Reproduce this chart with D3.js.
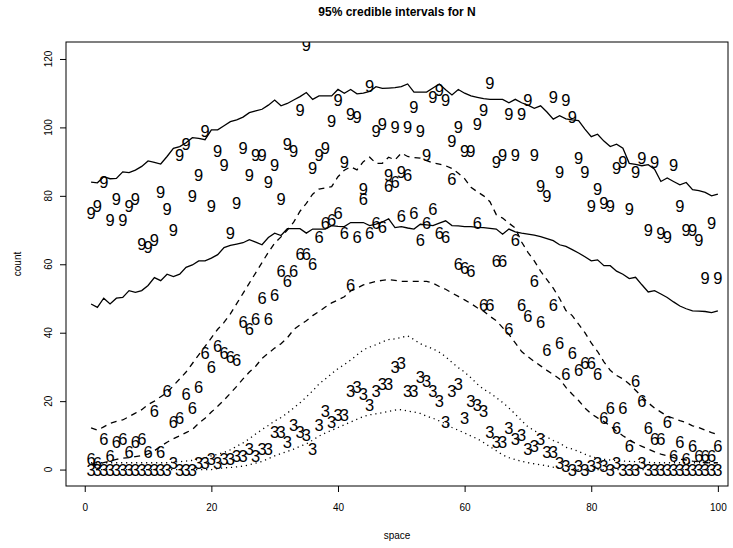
<!DOCTYPE html>
<html><head><meta charset="utf-8">
<script src="https://cdn.jsdelivr.net/npm/d3@7/dist/d3.min.js"></script>
<style>
body{margin:0;background:#fff}
svg{display:block}
text{font-family:"Liberation Sans",Arial,Helvetica,sans-serif;fill:#000}
</style>
</head><body>
<svg id="chart" width="733" height="548"></svg>
<script>
// ---------- data ----------
const space = d3.range(1, 101);
const count9 = [75,77,84,73,79,73,77,79,66,65, 67,81,76,70,92,95,80,86,99,77, 93,89,69,78,94,86,92,92,84,89, 79,95,93,105,124,88,92,94,102,108, 90,104,103,82,112,99,101,86,100,87, 100,106,99,92,109,111,108,96,100,93, 93,101,105,113,90,92,104,92,104,108, 92,83,80,109,87,108,103,91,87,77, 82,78,77,88,90,76,87,91,70,90, 69,68,89,77,70,70,67,56,72,56];
const count6 = [3,2,9,4,8,9,5,8,9,5, 17,5,23,14,15,22,18,24,34,30, 36,34,33,32,43,41,44,50,44,51, 58,55,58,63,63,60,68,72,73,75, 69,54,68,79,69,72,71,83,84,74, 86,75,67,72,76,69,68,85,60,59, 58,72,48,48,61,61,41,67,48,45, 55,43,35,48,37,28,34,29,31,31, 28,15,18,12,18,7,26,20,12,9, 9,14,4,8,3,7,4,4,4,7];
const count3 = [0,0,0,0,0,0,0,0,0,0, 0,0,0,2,0,0,0,2,2,3, 2,3,3,4,4,6,4,6,6,11, 11,8,13,11,10,6,13,17,14,16, 16,23,24,22,19,23,25,25,30,31, 23,23,27,26,23,20,14,23,25,15, 20,19,17,11,8,8,12,9,10,6, 7,9,5,5,2,1,0,1,0,1, 2,1,0,2,0,0,0,2,0,0, 0,0,0,0,0,0,0,0,0,0];

const upper9 = [84,83.8,85.6,85,85.1,87,86.8,87.5,88.6,90.2, 89.8,89.3,91.5,93.9,94.4,95.5,97,96.8,96.4,99.3, 99.3,100.5,101.7,102.2,103,104.3,104.8,105.3,106.5,108, 106.3,107,108,109,110.2,108.2,109.2,109.2,109.2,111.1, 110,111.1,109.8,110,110.5,111.9,111.4,111.5,111.6,111.9, 112.7,110.3,110.3,110.3,111.5,112.7,111,109.5,111.1,110, 109.2,108.8,108.4,108.2,108.2,108.2,107.2,108.2,107.2,106.5, 105.6,106.3,104.5,102.4,103.4,102.5,102.2,102,99.5,97.3, 98,96,94.4,95.1,93.9,89.5,89.2,88.8,89.1,87.8, 84.2,85.2,84.2,83.2,83.9,81.8,81.5,81,80,80.5];
const lower9 = [48.4,47.4,50.1,48.4,50.1,50.3,52.3,51.8,52.3,53.8, 56.1,55.2,57.1,56.4,57.1,59.1,59.8,61,61,61.8, 62.8,64.9,65.5,65.9,66.3,67.2,66.5,65.7,67.8,69.1, 68.4,70.4,70.4,70.4,69.1,70.3,70.3,70.3,71.3,71.1, 71,72.2,72.2,72.2,71.3,71.7,72.3,73.3,70.7,71, 70.6,70.3,71.7,71.5,71.3,72,72.7,71.3,71.2,71, 71,70.8,70.7,70.5,70.3,68.8,70.3,69.5,69.1,68.8, 68.5,68.1,67.5,66.9,65.7,65.2,64.3,63.3,62.2,61, 61.3,59.6,59.6,58,57.1,55.8,56.2,54,51.9,52.3, 51.3,50.3,49,47.8,47,46.4,46.3,46.2,45.9,46.4];
const upper6 = [12.2,11.5,12.5,13.5,14.1,14.5,15.5,16.5,17.5,19, 20,21.3,22.5,24.5,26.5,28.5,31,33.5,36,38.5, 41,43,45.5,48.5,51.5,54.5,57.5,60.5,63.5,66.2, 68,70,72.3,75.5,77.8,80.5,82,82.3,82.7,85.6, 87.5,88.5,87.6,90,91.3,89.5,89.5,91.3,90.5,92.5, 91.5,91.2,91,90.3,89.6,89.3,88.8,88,86.6,85, 82.5,81.2,80,78.3,74.5,73.5,72,70.6,66.5,63.5, 61,58,55.5,53,50,46.5,45,42.5,40,37, 34.5,31.5,29,27.5,26.5,25,23.2,21.3,19.5,18, 16.8,15.6,15,14.3,13.7,12.8,12.3,11.5,10.8,10.2];
const lower6 = [1.5,1.5,2,2.5,3,3.3,3.5,3.8,4.1,4.5, 5.5,6.8,8,9,9.9,10.8,11.7,13.5,15,16.8, 18.5,20.3,22.3,24.3,26.5,28.5,30.2,32.5,34,35.5, 36.8,38.5,40.9,42.3,43.5,45,46.2,47.5,48.7,49.6, 50.5,52.2,53,54,54.5,55,55.3,55.5,55.3,55, 55,55,55,55,54.5,53.5,52.7,51.6,50.6,49.6, 48.5,47.3,46.3,44.8,43.5,41.5,39.5,37,34.5,33, 31.6,30.3,29,27.8,26.5,24,22,20.2,18,16.3, 15.1,14,12.8,11.2,9.9,8.7,7.6,6.8,6,5.2, 4.5,4,3.5,3,2.8,2.5,2.3,2,2,2];
const upper3 = [2,2,2,2,2,2,2,2,2,2, 2,2,2,2.2,2.3,2.5,2.7,3,3.4,4, 4.5,5,5.8,6.8,7.8,9,10.4,11.7,12.9,14.2, 15.2,16.5,18,19.5,21.2,23,25,26.5,28,29.5, 30.7,32,33.5,35,35.8,36.5,37.3,38,38.2,38.6, 39.1,38,36.8,36,35.3,34.3,33,31.3,29.8,28.5, 26.8,25,23.5,22.4,21,19.6,18,16.2,14.3,12.5, 11.4,10.3,9.5,8.5,7.8,6.5,6,5.3,4.5,3.8, 3.3,3,2.8,2.6,2.5,2.4,2.3,2.2,2.1,2, 2,2,2,2,2,2,2,2,2,2];
const lower3 = [0,0,0,0,0,0,0,0,0,0, 0,0,0,0,0,0,0,0,0,0, 0.3,0.5,0.6,0.8,1,1.4,1.9,2.4,3.2,4, 4.7,5.3,6,6.8,7.5,8.6,9.8,10.7,11.5,12.3, 13.1,13.9,14.7,15.5,16,16.3,16.6,17,17.4,17.5, 17.1,16.8,16.4,15.6,15,14.2,13.4,12.3,11.5,10.7, 9.8,9,7.9,6.7,5.5,4.3,3.5,2.9,2.4,2, 1.7,1.4,1.1,0.7,0.4,0,0,0,0,0, 0,0,0,0,0,0,0,0,0,0, 0,0,0,0,0,0,0,0,0,0];

const xTicks = [0, 20, 40, 60, 80, 100];
const yTicks = [0, 20, 40, 60, 80, 100, 120];
const titleText = "95% credible intervals for N";
const xLabel = "space";
const yLabel = "count";

// ---------- layout ----------
const W = 733, H = 548;
const box = {left: 66, right: 728, top: 42, bottom: 486};
const x = d3.scaleLinear().domain([-2.96, 101.6]).range([box.left, box.right]);
const y = d3.scaleLinear().domain([-4.8, 124.96]).range([box.bottom, box.top]);

const svg = d3.select("#chart");
svg.append("rect").attr("width", W).attr("height", H).attr("fill", "#fff");

svg.append("defs").append("clipPath").attr("id", "plotclip")
  .append("rect").attr("x", box.left).attr("y", box.top)
  .attr("width", box.right - box.left).attr("height", box.bottom - box.top);

const plot = svg.append("g").attr("clip-path", "url(#plotclip)");

const series = [
  {label: "9", values: count9},
  {label: "6", values: count6},
  {label: "3", values: count3}
];
series.forEach(s => {
  plot.append("g").selectAll("text").data(s.values).join("text")
    .attr("x", (d, i) => x(space[i]))
    .attr("y", d => y(d))
    .attr("dy", "0.36em")
    .attr("text-anchor", "middle")
    .attr("font-size", 16.5)
    .text(s.label);
});

const line = d3.line().x((d, i) => x(space[i])).y(d => y(d));
const bands = [
  {data: upper9, dash: null}, {data: lower9, dash: null},
  {data: upper6, dash: "6,5"}, {data: lower6, dash: "6,5"},
  {data: upper3, dash: "1.2,3.8"}, {data: lower3, dash: "1.2,3.8"}
];
bands.forEach(b => {
  plot.append("path").attr("d", line(b.data))
    .attr("fill", "none").attr("stroke", "#000").attr("stroke-width", 1.3)
    .attr("stroke-dasharray", b.dash);
});

svg.append("rect").attr("x", box.left).attr("y", box.top)
  .attr("width", box.right - box.left).attr("height", box.bottom - box.top)
  .attr("fill", "none").attr("stroke", "#000").attr("stroke-width", 1);

const xAxis = svg.append("g").attr("transform", `translate(0,${box.bottom})`)
  .call(d3.axisBottom(x).tickValues(xTicks).tickSize(6).tickPadding(12));
xAxis.select(".domain").remove();
xAxis.selectAll("line").attr("stroke", "#000");
xAxis.selectAll("text").attr("font-size", 10).attr("font-family", "Liberation Sans, Arial, sans-serif").attr("fill", "#000");

const yAxis = svg.append("g").attr("transform", `translate(${box.left},0)`)
  .call(d3.axisLeft(y).tickValues(yTicks).tickSize(6).tickFormat(""));
yAxis.select(".domain").remove();
yAxis.selectAll("line").attr("stroke", "#000");
svg.append("g").selectAll("text").data(yTicks).join("text")
  .attr("transform", d => `translate(${box.left - 14},${y(d)}) rotate(-90)`)
  .attr("text-anchor", "middle")
  .attr("font-size", 10)
  .text(d => d);

svg.append("text").attr("x", (box.left + box.right) / 2).attr("y", 16)
  .attr("text-anchor", "middle").attr("font-size", 12).attr("font-weight", "bold")
  .text(titleText);
svg.append("text").attr("x", (box.left + box.right) / 2).attr("y", 539)
  .attr("text-anchor", "middle").attr("font-size", 10).text(xLabel);
svg.append("text").attr("transform", `translate(21,${(box.top + box.bottom) / 2}) rotate(-90)`)
  .attr("text-anchor", "middle").attr("font-size", 10).text(yLabel);
</script>
</body></html>
